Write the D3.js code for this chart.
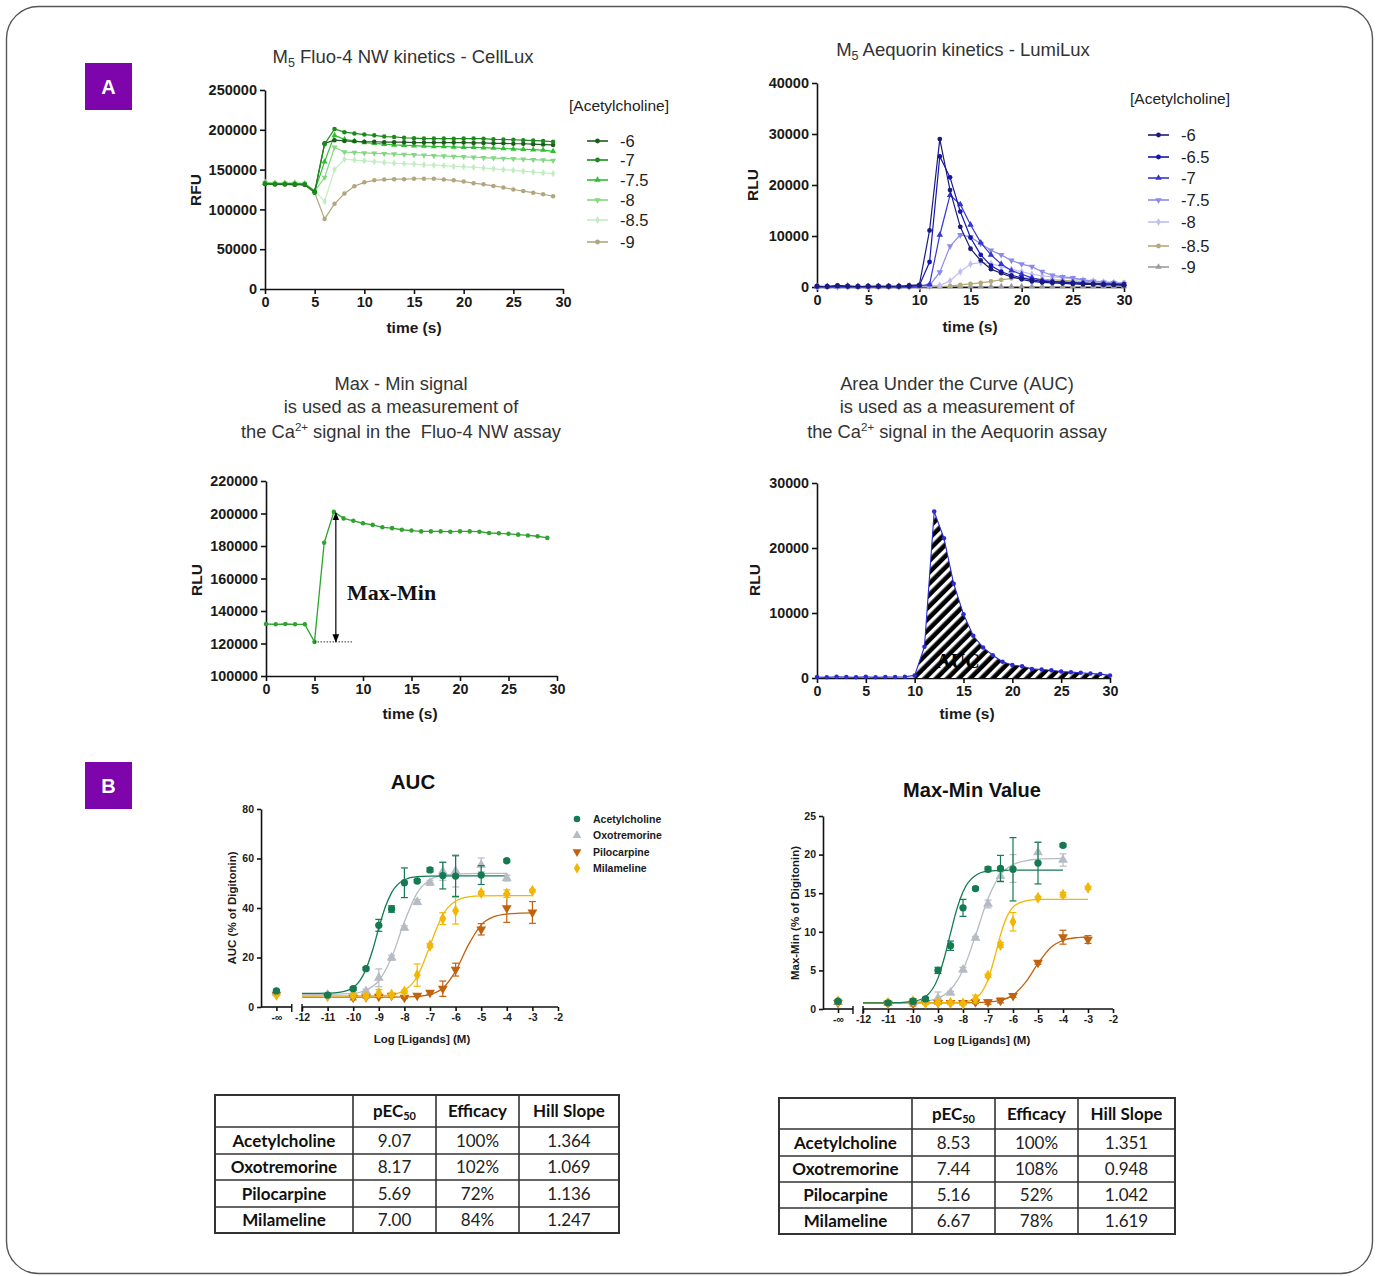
<!DOCTYPE html>
<html>
<head>
<meta charset="utf-8">
<script src="https://cdnjs.cloudflare.com/ajax/libs/d3/7.8.5/d3.min.js"></script>
<style>
  body { margin: 0; background: #fff; }
</style>
</head>
<body>
<div id="fig"></div>
<script>
// ---------- data: kinetics (panel A) ----------
var fluoTime = [0,1,2,3,4,5,6,7,8,9,10,11,12,13,14,15,16,17,18,19,20,21,22,23,24,25,26,27,28,29];
var fluoLevels = ["-6", "-7", "-7.5", "-8", "-8.5", "-9"];
var fluoM6  = [132000,131500,131500,131000,131000,122000,183000,187000,186000,185500,185000,185000,184500,184500,184500,184000,184000,184000,184000,184000,184000,183500,183500,183000,183000,182500,182500,182000,181500,181000];
var fluoM7  = [132500,132000,132000,132000,131500,121000,182000,201000,197000,195500,194000,193000,191500,191000,190000,189500,189000,189000,189000,188800,189000,189000,188800,188000,187800,187500,187000,186500,186000,185000];
var fluoM75 = [133000,132500,132500,132500,132000,123000,160000,193000,188000,186000,184000,183000,182000,181000,180500,180000,179500,179000,179000,178500,178000,178000,177500,177000,176500,176000,175500,175000,174500,173000];
var fluoM8  = [133500,133000,133000,133000,132500,123000,140000,178000,172000,171500,171000,170500,170000,169500,169000,168500,168000,167500,167000,166500,166000,165500,165000,164500,164000,163500,163000,162500,162000,161500];
var fluoM85 = [134000,133500,133500,133500,133000,123500,110000,150000,163000,162000,161000,160000,159000,158000,157500,157000,156000,155500,155000,154000,153500,153000,152000,151000,150000,149000,148000,147000,146000,145000];
var fluoM9  = [132000,131000,131000,131000,130500,121000,88000,107000,120000,129000,134000,136500,137500,138000,138000,138500,138500,138500,137500,136500,135000,133000,131500,129500,127500,125000,123000,121000,119000,116500];
var fluoTicks = [0, 50000, 100000, 150000, 200000, 250000];

var aeqTime = [0,1,2,3,4,5,6,7,8,9,10,11,12,13,14,15,16,17,18,19,20,21,22,23,24,25,26,27,28,29,30];
var aeqLevels = ["-6", "-6.5", "-7", "-7.5", "-8", "-8.5", "-9"];
var aeqM6  = [200,100,300,200,100,200,100,200,100,300,400,11100,29000,19000,11800,7500,5200,3500,2700,2000,1500,1100,900,800,700,600,500,500,400,400,300];
var aeqM65 = [100,100,200,100,100,100,200,100,200,100,300,4900,25600,21500,14800,9700,6300,4200,3000,2300,1800,1400,1100,1000,900,800,700,600,600,500,500];
var aeqM7  = [100,100,100,200,100,100,100,100,100,200,200,500,10200,18000,16200,12200,8700,6300,4500,3200,2500,1800,1300,1100,1000,900,800,700,600,600,500];
var aeqM75 = [100,100,100,100,100,100,100,100,100,100,200,300,2900,8000,10200,9800,8500,7200,6300,5200,4500,4000,3000,2300,2000,1800,1400,1100,900,800,600];
var aeqM8  = [100,100,100,100,100,100,100,100,100,100,100,200,300,1200,3000,4500,4800,4600,4000,3500,3000,2500,2200,2000,1800,1600,1400,1200,1000,900,800];
var aeqM85 = [0,0,0,0,0,0,0,0,0,0,0,0,100,200,400,600,800,1100,1400,1700,1800,1700,1500,1400,1300,1200,1100,1000,950,900,850];
var aeqM9  = [100,100,100,100,100,100,100,100,100,100,100,100,100,100,100,100,100,100,100,100,100,100,100,100,100,100,100,100,100,100,100];
var aeqTicks = [0, 10000, 20000, 30000, 40000];

// single traces used to explain the read-outs
var mmSignal  = [132000,131800,132000,131800,131800,121000,182000,201000,197000,195500,194000,193000,191500,191000,190000,189500,189000,189000,189000,188800,189000,189000,188800,188000,187800,187500,187000,186500,186000,185000];
var mmTicks   = [100000, 120000, 140000, 160000, 180000, 200000, 220000];
var aucSignal = [150,100,200,150,100,200,100,150,150,200,400,4800,25600,21500,14500,9800,6500,4700,3500,2500,2000,1800,1400,1300,1200,1000,900,800,700,600,400];
var aucTicks  = [0, 10000, 20000, 30000];
var timeTicks = [0, 5, 10, 15, 20, 25, 30];

// ---------- data: concentration-response (panel B) ----------
// log dose -13 stands for the "-∞" (vehicle) point
var compounds = ["Acetylcholine", "Oxotremorine", "Pilocarpine", "Milameline"];
var doseTicks = [-13, -12, -11, -10, -9, -8, -7, -6, -5, -4, -3, -2];

var achDose  = [-13,-11,-10,-9.5,-9,-8.5,-8,-7.5,-7,-6.5,-6,-5,-4];
var oxoDose  = [-13,-11,-10,-9.5,-9,-8.5,-8,-7.5,-7,-6.5,-6,-5,-4];
var piloDose = [-13,-11,-10,-9.5,-9,-8.5,-8,-7.5,-7,-6.5,-6,-5,-4,-3];
var milaDose = [-13,-11,-10,-9.5,-9,-8.5,-8,-7.5,-7,-6.5,-6,-5,-4,-3];

var aucAch   = [6.5,4.8,7.4,15.5,33.0,39.6,50.2,50.9,55.4,53.1,52.9,53.3,59.1];
var aucAchE  = [0.6,0.3,0.6,0.6,2.4,1.3,6.0,0.6,0.8,5.4,8.2,3.8,0.6];
var aucOxo   = [5.8,5.0,5.2,6.4,11.8,19.9,32.0,42.4,50.2,54.8,55.0,57.4,52.1];
var aucOxoE  = [0.5,0.3,0.4,0.8,3.6,1.0,0.8,1.0,1.0,3.6,6.5,2.8,1.2];
var aucPilo  = [5.0,4.4,3.8,4.0,4.2,4.6,3.8,4.6,5.8,7.4,15.1,31.4,40.0,38.2];
var aucPiloE = [0.4,0.6,0.9,0.4,0.4,0.5,0.4,0.4,0.6,3.1,2.6,2.3,5.8,4.4];
var aucMila  = [5.0,4.5,4.6,4.3,5.6,5.0,6.2,12.9,24.8,35.7,38.9,46.1,45.8,47.0];
var aucMilaE = [0.4,0.4,0.5,0.5,1.4,0.6,0.6,4.5,0.8,2.4,5.4,0.6,1.5,0.5];

// fitted curves
var aucAchFitX  = [-12,-11,-10.5,-10,-9.5,-9.25,-9,-8.75,-8.5,-8,-7.5,-7,-6,-5,-4];
var aucAchFitY  = [5.5,5.6,6.0,7.9,15.3,22.7,31.9,40.3,46.2,51.4,52.7,52.9,53.0,53.0,53.0];
var aucOxoFitX  = [-12,-11,-10,-9.5,-9,-8.5,-8,-7.5,-7,-6.5,-6,-5,-4];
var aucOxoFitY  = [5.0,5.1,5.5,6.8,10.6,20.0,34.4,46.1,51.4,53.2,53.7,54.0,54.0];
var aucPiloFitX = [-12,-9,-8,-7.5,-7,-6.5,-6,-5.5,-5,-4.5,-4,-3.5,-3];
var aucPiloFitY = [4.0,4.0,4.1,4.3,5.1,7.6,14.5,25.1,33.2,36.5,37.6,37.9,38.0];
var aucMilaFitX = [-12,-10,-9,-8.5,-8,-7.5,-7.25,-7,-6.75,-6.5,-6,-5.5,-5,-4,-3];
var aucMilaFitY = [4.5,4.5,4.6,5.0,6.7,12.3,18.0,24.8,31.5,37.2,42.8,44.5,44.9,45.0,45.0];
var aucTicksY = [0, 20, 40, 60, 80];

var mmAch   = [1.0,0.8,1.0,1.3,5.0,8.2,13.1,15.6,18.1,18.2,18.1,18.9,21.2];
var mmAchE  = [0.2,0.2,0.3,0.2,0.4,0.6,1.1,0.2,0.3,1.7,4.1,2.7,0.2];
var mmOxo   = [0.9,0.8,0.9,1.0,1.4,2.1,5.1,9.2,13.6,17.2,18.2,20.3,19.3];
var mmOxoE  = [0.2,0.2,0.2,0.2,0.8,0.2,0.3,0.2,0.5,0.6,1.8,1.3,0.8];
var mmPilo  = [0.8,0.7,0.7,0.8,0.8,0.8,0.8,0.9,0.9,1.1,1.7,6.0,9.3,9.0];
var mmPiloE = [0.2,0.2,0.3,0.2,0.2,0.2,0.2,0.2,0.3,0.3,0.2,0.2,0.9,0.5];
var mmMila  = [1.0,0.8,1.0,0.8,0.85,0.8,0.7,1.3,4.3,8.3,11.3,14.4,14.8,15.7];
var mmMilaE = [0.2,0.2,0.3,0.2,0.2,0.2,0.2,0.5,0.2,0.3,1.2,0.2,0.3,0.2];

var mmAchFitX  = [-12,-11,-10,-9.5,-9,-8.75,-8.5,-8.25,-8,-7.5,-7,-6,-5,-4];
var mmAchFitY  = [0.8,0.8,1.0,1.6,4.0,6.6,9.8,12.9,15.2,17.3,17.85,18.0,18.0,18.0];
var mmOxoFitX  = [-12,-11,-10,-9.5,-9,-8.5,-8,-7.5,-7,-6.5,-6,-5.5,-5,-4];
var mmOxoFitY  = [0.8,0.8,0.87,1.0,1.4,2.5,5.05,9.5,14.3,17.4,18.7,19.2,19.4,19.5];
var mmPiloFitX = [-12,-8,-7,-6.5,-6,-5.5,-5,-4.5,-4,-3.5,-3];
var mmPiloFitY = [0.8,0.8,0.9,1.13,1.8,3.44,5.9,7.94,8.9,9.23,9.35];
var mmMilaFitX = [-12,-9,-8,-7.5,-7.25,-7,-6.75,-6.5,-6.25,-6,-5.5,-5,-4,-3];
var mmMilaFitY = [0.8,0.8,0.9,1.4,2.2,3.8,6.5,9.6,11.9,13.2,14.0,14.2,14.2,14.2];
var mmTicksY = [0, 5, 10, 15, 20, 25];

// ---------- data: tables ----------
var tableHead = ["pEC", "Efficacy", "Hill Slope"];
var aucPEC50 = ["9.07", "8.17", "5.69", "7.00"];
var aucEff   = ["100%", "102%", "72%", "84%"];
var aucHill  = ["1.364", "1.069", "1.136", "1.247"];
var mmPEC50  = ["8.53", "7.44", "5.16", "6.67"];
var mmEff    = ["100%", "108%", "52%", "78%"];
var mmHill   = ["1.351", "0.948", "1.042", "1.619"];

// ---------- drawing ----------
var SANS = "'Liberation Sans', Arial, sans-serif";
var SERIF = "'Liberation Serif', 'Times New Roman', serif";

var svg = d3.select("#fig").append("svg")
  .attr("width", 1380)
  .attr("height", 1276)
  .attr("font-family", SANS);

var defs = svg.append("defs");
var hatch = defs.append("pattern")
  .attr("id", "hatch")
  .attr("patternUnits", "userSpaceOnUse")
  .attr("width", 8).attr("height", 8)
  .attr("patternTransform", "rotate(45)");
hatch.append("rect").attr("width", 8).attr("height", 8).attr("fill", "#000");
hatch.append("rect").attr("width", 3.4).attr("height", 8).attr("fill", "#fff");

defs.append("marker")
  .attr("id", "arrow")
  .attr("viewBox", "0 0 10 10")
  .attr("refX", 9).attr("refY", 5)
  .attr("markerWidth", 7).attr("markerHeight", 7)
  .attr("orient", "auto-start-reverse")
  .append("path").attr("d", "M0,1 L10,5 L0,9 Z").attr("fill", "#000");

// outer frame
svg.append("rect")
  .attr("x", 6.5).attr("y", 6.5)
  .attr("width", 1366).attr("height", 1267)
  .attr("rx", 32)
  .attr("fill", "none")
  .attr("stroke", "#555")
  .attr("stroke-width", 1.4);

function panelLabel(txt, x, y) {
  svg.append("rect").attr("x", x).attr("y", y).attr("width", 47).attr("height", 47).attr("fill", "#7e04ab");
  svg.append("text").attr("x", x + 23.5).attr("y", y + 30.5)
    .attr("text-anchor", "middle").attr("fill", "#fff")
    .attr("font-size", 20).attr("font-weight", "bold").text(txt);
}
panelLabel("A", 85, 63);
panelLabel("B", 85, 762);

function styleAxis(sel, fs) {
  sel.attr("font-family", SANS)
    .attr("font-size", fs)
    .attr("font-weight", "bold");
  sel.select(".domain").attr("stroke", "#111").attr("stroke-width", 1.6);
  sel.selectAll(".tick line").attr("stroke", "#111").attr("stroke-width", 1.6);
  sel.selectAll(".tick text").attr("fill", "#1a1a1a");
}

function symbolPath(type, size) {
  var t = d3.symbolCircle;
  if (type === "triangle" || type === "down") t = d3.symbolTriangle;
  if (type === "diamond") t = d3.symbolDiamond;
  return d3.symbol().type(t).size(size)();
}

function addSymbol(g, type, cx, cy, size, color) {
  g.append("path")
    .attr("d", symbolPath(type, size))
    .attr("transform", "translate(" + cx + "," + cy + ")" + (type === "down" ? " rotate(180)" : ""))
    .attr("fill", color);
}

function yTitle(txt, x, y, fs) {
  svg.append("text")
    .attr("transform", "translate(" + x + "," + y + ") rotate(-90)")
    .attr("text-anchor", "middle")
    .attr("font-size", fs).attr("font-weight", "bold").attr("fill", "#1a1a1a")
    .text(txt);
}

function xTitle(txt, x, y, fs) {
  svg.append("text").attr("x", x).attr("y", y)
    .attr("text-anchor", "middle")
    .attr("font-size", fs).attr("font-weight", "bold").attr("fill", "#1a1a1a")
    .text(txt);
}

// time-course frame: returns scales
function kineticFrame(c) {
  var x = d3.scaleLinear().domain([0, 30]).range([c.left, c.right]);
  var y = d3.scaleLinear().domain([c.yTicks[0], c.yTicks[c.yTicks.length - 1]]).range([c.bottom, c.top]);
  svg.append("g")
    .attr("transform", "translate(0," + c.bottom + ")")
    .call(d3.axisBottom(x).tickValues(timeTicks).tickSize(5).tickSizeOuter(0).tickPadding(3).tickFormat(d3.format("d")))
    .call(styleAxis, c.fs);
  svg.append("g")
    .attr("transform", "translate(" + c.left + ",0)")
    .call(d3.axisLeft(y).tickValues(c.yTicks).tickSize(5).tickSizeOuter(0).tickPadding(3).tickFormat(d3.format("d")))
    .call(styleAxis, c.fs);
  return { x: x, y: y };
}

function drawTrace(sc, time, values, color, marker, size, width) {
  var g = svg.append("g");
  var line = d3.line().x(function (d, i) { return sc.x(time[i]); }).y(function (d) { return sc.y(d); });
  g.append("path").datum(values).attr("d", line)
    .attr("fill", "none").attr("stroke", color).attr("stroke-width", width);
  values.forEach(function (v, i) { addSymbol(g, marker, sc.x(time[i]), sc.y(v), size, color); });
}

function kineticLegend(x, yTitleY, ys, labels, colors, markers) {
  svg.append("text").attr("x", x).attr("y", yTitleY)
    .attr("font-size", 15.5).attr("fill", "#222").text("[Acetylcholine]");
  labels.forEach(function (lab, i) {
    var lx = x + 18, cy = ys[i];
    svg.append("line").attr("x1", lx).attr("x2", lx + 21).attr("y1", cy).attr("y2", cy)
      .attr("stroke", colors[i]).attr("stroke-width", 1.6);
    addSymbol(svg, markers[i], lx + 10.5, cy, 18, colors[i]);
    svg.append("text").attr("x", lx + 33).attr("y", cy + 5.5)
      .attr("font-size", 16.5).attr("fill", "#222").text(lab);
  });
}

function titleM5(txt, x, y) {
  var t = svg.append("text").attr("x", x).attr("y", y)
    .attr("text-anchor", "middle").attr("font-size", 18.5).attr("fill", "#333");
  t.append("tspan").text("M");
  t.append("tspan").attr("font-size", 12.5).attr("dy", 4).text("5");
  t.append("tspan").attr("dy", -4).text(" " + txt);
}

// ---- A1: Fluo-4 kinetics ----
titleM5("Fluo-4 NW kinetics - CellLux", 403, 63);
var scF = kineticFrame({ left: 265, right: 563, top: 90, bottom: 289, yTicks: fluoTicks, fs: 14.5 });
var fluoSeries = [fluoM6, fluoM7, fluoM75, fluoM8, fluoM85, fluoM9];
var fluoColors = ["#1f5a1f", "#1b8a1b", "#2fbf2f", "#84d884", "#c2edc2", "#b3a57f"];
var fluoMarkers = ["circle", "circle", "triangle", "down", "diamond", "circle"];
[5, 4, 3, 2, 0, 1].forEach(function (i) {
  drawTrace(scF, fluoTime, fluoSeries[i], fluoColors[i], fluoMarkers[i], 16, 1.2);
});
yTitle("RFU", 201, 190, 15.5);
xTitle("time (s)", 414, 333, 15.5);
kineticLegend(569, 111, [141, 160, 180, 200, 220, 242], fluoLevels, fluoColors, fluoMarkers);

// ---- A2: Aequorin kinetics ----
titleM5("Aequorin kinetics - LumiLux", 963, 56);
var scA = kineticFrame({ left: 817, right: 1124, top: 83, bottom: 287, yTicks: aeqTicks, fs: 14.5 });
var aeqSeries = [aeqM6, aeqM65, aeqM7, aeqM75, aeqM8, aeqM85, aeqM9];
var aeqColors = ["#1b1b78", "#1414b4", "#3535d6", "#8b8be8", "#bfbff4", "#b4aa7c", "#9c9c9c"];
var aeqMarkers = ["circle", "circle", "triangle", "down", "diamond", "circle", "triangle"];
[6, 5, 4, 3, 2, 1, 0].forEach(function (i) {
  drawTrace(scA, aeqTime, aeqSeries[i], aeqColors[i], aeqMarkers[i], 18, 1.2);
});
yTitle("RLU", 758, 185, 15.5);
xTitle("time (s)", 970, 332, 15.5);
kineticLegend(1130, 104, [135, 157, 178, 200, 222, 246, 267], aeqLevels, aeqColors, aeqMarkers);

// ---- A3: Max - Min explanation ----
function threeLineTitle(x, lines, assay) {
  [390, 413, 438].forEach(function (yy, i) {
    var t = svg.append("text").attr("x", x).attr("y", yy)
      .attr("text-anchor", "middle").attr("font-size", 18.3).attr("fill", "#333");
    if (i < 2) { t.text(lines[i]); return; }
    t.append("tspan").text("the Ca");
    t.append("tspan").attr("font-size", 11.5).attr("dy", -7).text("2+");
    t.append("tspan").attr("dy", 7).text(" signal in the " + assay);
  });
}
threeLineTitle(401, ["Max - Min signal", "is used as a measurement of"], "\u00a0Fluo-4 NW assay");
var scM = kineticFrame({ left: 266, right: 557, top: 481, bottom: 676, yTicks: mmTicks, fs: 14.3 });
drawTrace(scM, fluoTime, mmSignal, "#2ea32e", "circle", 16, 1.3);
yTitle("RLU", 202, 580, 15.5);
xTitle("time (s)", 410, 719, 15.5);
// max-min annotation
var maxIdx = d3.maxIndex(mmSignal), minIdx = d3.minIndex(mmSignal);
svg.append("line")
  .attr("x1", scM.x(7.2)).attr("x2", scM.x(7.2))
  .attr("y1", scM.y(mmSignal[maxIdx]) + 1).attr("y2", scM.y(mmSignal[minIdx]))
  .attr("stroke", "#000").attr("stroke-width", 1.2)
  .attr("marker-start", "url(#arrow)").attr("marker-end", "url(#arrow)");
svg.append("line")
  .attr("x1", scM.x(5)).attr("x2", scM.x(9))
  .attr("y1", scM.y(mmSignal[minIdx])).attr("y2", scM.y(mmSignal[minIdx]))
  .attr("stroke", "#333").attr("stroke-width", 1).attr("stroke-dasharray", "1.5,1.5");
svg.append("text").attr("x", 347).attr("y", 600)
  .attr("font-family", SERIF)
  .attr("font-size", 22).attr("font-weight", "bold").attr("fill", "#111")
  .text("Max-Min");

// ---- A4: AUC explanation ----
threeLineTitle(957, ["Area Under the Curve (AUC)", "is used as a measurement of"], "Aequorin assay");
var scU = kineticFrame({ left: 817, right: 1110, top: 483, bottom: 678, yTicks: aucTicks, fs: 14.3 });
var aucArea = d3.area()
  .x(function (d, i) { return scU.x(aeqTime[i + 10]); })
  .y0(scU.y(0))
  .y1(function (d) { return scU.y(d); });
svg.append("path").datum(aucSignal.slice(10)).attr("d", aucArea).attr("fill", "url(#hatch)");
svg.append("text").attr("x", 958).attr("y", 668).attr("text-anchor", "middle")
  .attr("font-family", SERIF).attr("font-size", 20).attr("font-weight", "bold")
  .attr("fill", "#000").text("AUC");
drawTrace(scU, aeqTime, aucSignal, "#2b2bd0", "circle", 16, 1.1);
yTitle("RLU", 760, 580, 15.5);
xTitle("time (s)", 967, 719, 15.5);

// ---- B: concentration-response ----
var colAch = "#137a52", colOxo = "#b5bcc3", colPilo = "#c0620e", colMila = "#f2b705";

function doseChart(c) {
  var x = d3.scaleLinear().domain([-12, -2]).range([c.x12, c.x2]);
  var y = d3.scaleLinear().domain([0, c.yTicks[c.yTicks.length - 1]]).range([c.bottom, c.top]);
  var xa = svg.append("g")
    .attr("transform", "translate(0," + c.bottom + ")")
    .call(d3.axisBottom(x).tickValues(doseTicks).tickSize(4).tickPadding(3)
      .tickFormat(function (d) { return d === -13 ? "-\u221e" : d; }))
    .call(styleAxis, 10.5);
  xa.select(".domain").remove();
  var xLeft = x(-13.6), xBreak = x(-12.4);
  xa.append("line").attr("x1", xLeft).attr("x2", xBreak).attr("stroke", "#111").attr("stroke-width", 1.6);
  xa.append("line").attr("x1", x(-12)).attr("x2", x(-2)).attr("stroke", "#111").attr("stroke-width", 1.6);
  [xBreak, x(-12)].forEach(function (bx) {
    xa.append("line").attr("x1", bx).attr("x2", bx).attr("y1", -3).attr("y2", 5)
      .attr("stroke", "#111").attr("stroke-width", 1.4);
  });
  svg.append("g")
    .attr("transform", "translate(" + xLeft + ",0)")
    .call(d3.axisLeft(y).tickValues(c.yTicks).tickSize(4).tickSizeOuter(0).tickPadding(3))
    .call(styleAxis, 10.5);

  var line = d3.line().curve(d3.curveMonotoneX)
    .x(function (d) { return x(d[0]); }).y(function (d) { return y(d[1]); });
  c.sets.forEach(function (s) {
    var pts = s.fitX.map(function (v, i) { return [v, s.fitY[i]]; });
    svg.append("path").datum(pts).attr("d", line)
      .attr("fill", "none").attr("stroke", s.color).attr("stroke-width", 1.3);
  });
  c.sets.forEach(function (s) {
    var g = svg.append("g");
    s.dose.forEach(function (d, i) {
      var cx = x(d), v = s.val[i], e = s.err[i];
      if (e > 0.35 * (c.yTicks[1] - c.yTicks[0]) / 20) {
        g.append("line").attr("x1", cx).attr("x2", cx).attr("y1", y(v - e)).attr("y2", y(v + e))
          .attr("stroke", s.color).attr("stroke-width", 1.2);
        [v - e, v + e].forEach(function (ev) {
          g.append("line").attr("x1", cx - 3.5).attr("x2", cx + 3.5).attr("y1", y(ev)).attr("y2", y(ev))
            .attr("stroke", s.color).attr("stroke-width", 1.2);
        });
      }
      addSymbol(g, s.marker, cx, y(v), 42, s.color);
    });
  });
}

svg.append("text").attr("x", 413).attr("y", 789).attr("text-anchor", "middle")
  .attr("font-size", 20.5).attr("font-weight", "bold").attr("fill", "#111").text("AUC");
doseChart({
  x12: 302, x2: 558, top: 809, bottom: 1007, yTicks: aucTicksY,
  sets: [
    { dose: oxoDose, val: aucOxo, err: aucOxoE, fitX: aucOxoFitX, fitY: aucOxoFitY, color: colOxo, marker: "triangle" },
    { dose: piloDose, val: aucPilo, err: aucPiloE, fitX: aucPiloFitX, fitY: aucPiloFitY, color: colPilo, marker: "down" },
    { dose: milaDose, val: aucMila, err: aucMilaE, fitX: aucMilaFitX, fitY: aucMilaFitY, color: colMila, marker: "diamond" },
    { dose: achDose, val: aucAch, err: aucAchE, fitX: aucAchFitX, fitY: aucAchFitY, color: colAch, marker: "circle" }
  ]
});
yTitle("AUC (% of Digitonin)", 236, 908, 11.5);
xTitle("Log [Ligands] (M)", 422, 1043, 11.5);

// legend of panel B
var legColors = [colAch, colOxo, colPilo, colMila];
var legMarkers = ["circle", "triangle", "down", "diamond"];
compounds.forEach(function (name, i) {
  var cy = 819 + i * 16.4;
  addSymbol(svg, legMarkers[i], 577, cy, 34, legColors[i]);
  svg.append("text").attr("x", 593).attr("y", cy + 3.8)
    .attr("font-size", 10.5).attr("font-weight", "bold").attr("fill", "#1a1a1a").text(name);
});

svg.append("text").attr("x", 972).attr("y", 797).attr("text-anchor", "middle")
  .attr("font-size", 20).attr("font-weight", "bold").attr("fill", "#111").text("Max-Min Value");
doseChart({
  x12: 863, x2: 1113, top: 816, bottom: 1009, yTicks: mmTicksY,
  sets: [
    { dose: oxoDose, val: mmOxo, err: mmOxoE, fitX: mmOxoFitX, fitY: mmOxoFitY, color: colOxo, marker: "triangle" },
    { dose: piloDose, val: mmPilo, err: mmPiloE, fitX: mmPiloFitX, fitY: mmPiloFitY, color: colPilo, marker: "down" },
    { dose: milaDose, val: mmMila, err: mmMilaE, fitX: mmMilaFitX, fitY: mmMilaFitY, color: colMila, marker: "diamond" },
    { dose: achDose, val: mmAch, err: mmAchE, fitX: mmAchFitX, fitY: mmAchFitY, color: colAch, marker: "circle" }
  ]
});
yTitle("Max-Min (% of Digitonin)", 799, 913, 11.5);
xTitle("Log [Ligands] (M)", 982, 1044, 11.5);

// ---- tables ----
function drawTable(xs, ys, cols) {
  var g = svg.append("g").attr("font-family", "Lato, 'Open Sans', sans-serif");
  g.append("rect").attr("x", xs[0]).attr("y", ys[0])
    .attr("width", xs[xs.length - 1] - xs[0]).attr("height", ys[ys.length - 1] - ys[0])
    .attr("fill", "none").attr("stroke", "#333").attr("stroke-width", 2);
  xs.slice(1, -1).forEach(function (xx) {
    g.append("line").attr("x1", xx).attr("x2", xx).attr("y1", ys[0]).attr("y2", ys[ys.length - 1])
      .attr("stroke", "#333").attr("stroke-width", 1.6);
  });
  ys.slice(1, -1).forEach(function (yy) {
    g.append("line").attr("x1", xs[0]).attr("x2", xs[xs.length - 1]).attr("y1", yy).attr("y2", yy)
      .attr("stroke", "#333").attr("stroke-width", 1.6);
  });
  tableHead.forEach(function (h, j) {
    var t = g.append("text").attr("x", (xs[j + 1] + xs[j + 2]) / 2).attr("y", (ys[0] + ys[1]) / 2 + 6)
      .attr("text-anchor", "middle").attr("font-size", 17).attr("font-weight", "bold").attr("fill", "#111");
    t.append("tspan").text(h);
    if (j === 0) t.append("tspan").attr("font-size", 11).attr("dy", 3).text("50");
  });
  compounds.forEach(function (name, i) {
    var cy = (ys[i + 1] + ys[i + 2]) / 2 + 6;
    g.append("text").attr("x", (xs[0] + xs[1]) / 2).attr("y", cy)
      .attr("text-anchor", "middle").attr("font-size", 17).attr("font-weight", "bold").attr("fill", "#111")
      .text(name);
    cols.forEach(function (col, j) {
      g.append("text").attr("x", (xs[j + 1] + xs[j + 2]) / 2).attr("y", cy)
        .attr("text-anchor", "middle").attr("font-size", 17).attr("fill", "#222")
        .text(col[i]);
    });
  });
}
drawTable([215, 353, 436, 519, 619], [1095, 1127, 1154, 1180, 1207, 1233], [aucPEC50, aucEff, aucHill]);
drawTable([779, 912, 995, 1078, 1175], [1098, 1129, 1156, 1182, 1208, 1234], [mmPEC50, mmEff, mmHill]);
</script>
</body>
</html>
